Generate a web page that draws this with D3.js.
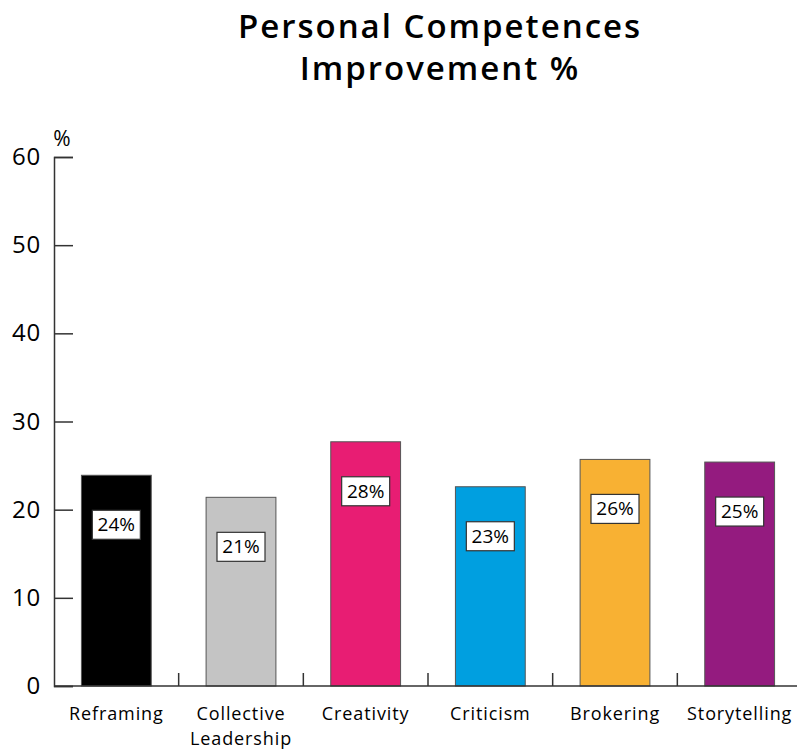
<!DOCTYPE html>
<html>
<head>
<meta charset="utf-8">
<script src="https://d3js.org/d3.v7.min.js"></script>
<style>
  body { margin: 0; background: #fff; }
  svg { display: block; font-family: "Open Sans", Lato, sans-serif; }
</style>
</head>
<body>
<svg id="chart" width="797" height="749"></svg>
<script>
// Personal competences improvement, in percent
const categories = ["Reframing", "Collective\nLeadership", "Creativity", "Criticism", "Brokering", "Storytelling"];
const values = [23.9, 21.4, 27.7, 22.6, 25.7, 25.4];
const colors = ["#000000", "#c4c4c4", "#e81d73", "#009fe0", "#f8b133", "#941b7f"];
const yTicks = [0, 10, 20, 30, 40, 50, 60];
const titleLines = ["Personal Competences", "Improvement %"];

const svg = d3.select("#chart");
const margin = { left: 54, top: 157, bottom: 686, right: 802 };

const x = d3.scaleBand()
  .domain(d3.range(categories.length))
  .range([margin.left, margin.right])
  .paddingInner(0.44)
  .paddingOuter(0.22);

const y = d3.scaleLinear().domain([0, 60]).range([margin.bottom, margin.top]);

const axisColor = "#333";

// title
svg.append("g").selectAll("text")
  .data(titleLines)
  .join("text")
  .attr("x", 440)
  .attr("y", (d, i) => 38 + i * 42)
  .attr("text-anchor", "middle")
  .attr("font-size", 33)
  .attr("font-weight", 600)
  .attr("letter-spacing", 2)
  .attr("fill", "#000")
  .text(d => d);

// y axis
const yAxis = svg.append("g")
  .attr("transform", `translate(${margin.left},0)`)
  .call(d3.axisRight(y).tickValues(yTicks).tickSize(19).tickFormat(""));
yAxis.select(".domain").attr("stroke", axisColor).attr("stroke-width", 1.5);
yAxis.selectAll(".tick line").attr("stroke", axisColor).attr("stroke-width", 1.5);

svg.append("g").selectAll("text")
  .data(yTicks)
  .join("text")
  .attr("x", 41)
  .attr("y", d => y(d) + 8)
  .attr("text-anchor", "end")
  .attr("font-size", 24)
  .attr("letter-spacing", 0.8)
  .attr("fill", "#000")
  .text(d => d);

svg.append("text")
  .attr("x", 62)
  .attr("y", 146)
  .attr("text-anchor", "middle")
  .attr("font-size", 21)
  .attr("fill", "#000")
  .text("%");

// bars
svg.append("g").selectAll("rect")
  .data(values)
  .join("rect")
  .attr("x", (d, i) => x(i))
  .attr("y", d => y(d))
  .attr("width", x.bandwidth())
  .attr("height", d => y(0) - y(d))
  .attr("fill", (d, i) => colors[i])
  .attr("stroke", "#555")
  .attr("stroke-width", 1);

// x axis with ticks at category boundaries
const step = x.step();
const boundaries = d3.range(1, categories.length).map(i => margin.left + i * step);
svg.append("line")
  .attr("x1", margin.left).attr("x2", margin.right)
  .attr("y1", y(0)).attr("y2", y(0))
  .attr("stroke", axisColor).attr("stroke-width", 1.5);
svg.append("g").selectAll("line")
  .data(boundaries)
  .join("line")
  .attr("x1", d => d).attr("x2", d => d)
  .attr("y1", y(0)).attr("y2", y(0) - 13)
  .attr("stroke", axisColor).attr("stroke-width", 1.5);

// category labels, one text per line
const lineGap = 25;
svg.append("g").selectAll("g")
  .data(categories)
  .join("g")
  .attr("transform", (d, i) => `translate(${x(i) + x.bandwidth() / 2},720)`)
  .selectAll("text")
  .data(d => d.split("\n"))
  .join("text")
  .attr("y", (d, i) => i * lineGap)
  .attr("text-anchor", "middle")
  .attr("font-size", 18)
  .attr("letter-spacing", 0.9)
  .attr("fill", "#000")
  .text(d => d);

// value labels in boxes
const labels = svg.append("g").selectAll("g")
  .data(values)
  .join("g")
  .attr("transform", (d, i) => `translate(${x(i) + x.bandwidth() / 2},${y(d) + 49})`);
labels.append("rect")
  .attr("x", -24).attr("y", -14)
  .attr("width", 48).attr("height", 29)
  .attr("fill", "#fff")
  .attr("stroke", "#333")
  .attr("stroke-width", 1.2);
labels.append("text")
  .attr("y", 7)
  .attr("text-anchor", "middle")
  .attr("font-size", 19)
  .attr("fill", "#000")
  .text(d => Math.round(d) + "%");
</script>
</body>
</html>
